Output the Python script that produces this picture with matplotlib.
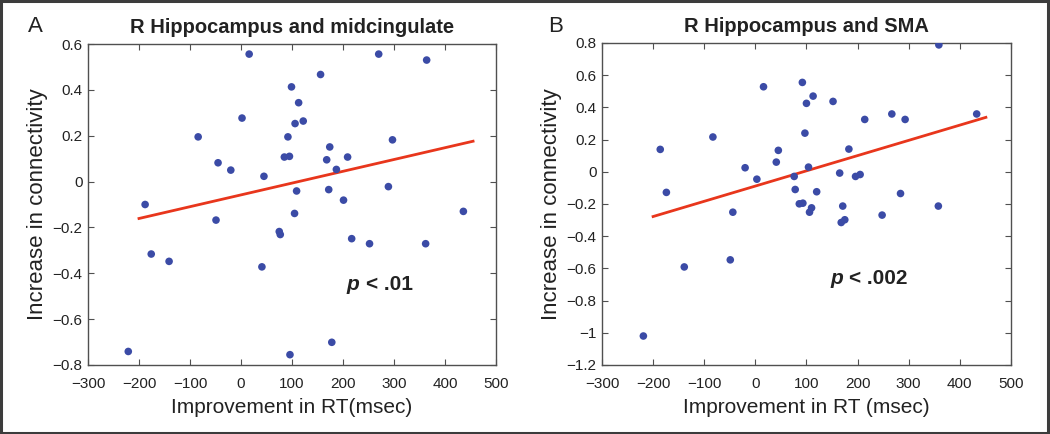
import matplotlib
matplotlib.use('Agg')
import matplotlib.pyplot as plt
from matplotlib.patches import Rectangle

plt.rcParams['font.family'] = ['Liberation Sans', 'DejaVu Sans']

DOT = '#3b4ba6'
FIT = '#e8361c'
EDGE = '#505050'

# panel A: R hippocampus and midcingulate
a_rt = [16, 99, 113, 2, 106, 122, -84, 92, -45, -20, 85, 95, 45, 109, -188, -49, 105,
        75, 77, -176, -141, 41, -221, 96, 270, 364, 156, 297, 174, 168, 209, 187, 289,
        172, 201, 436, 217, 252, 362, 178]
a_conn = [0.556, 0.413, 0.344, 0.277, 0.253, 0.264, 0.195, 0.195, 0.082, 0.050, 0.107,
          0.110, 0.023, -0.041, -0.10, -0.168, -0.139, -0.218, -0.231, -0.316, -0.348,
          -0.372, -0.741, -0.755, 0.556, 0.530, 0.467, 0.182, 0.151, 0.095, 0.107, 0.053,
          -0.022, -0.035, -0.081, -0.130, -0.249, -0.271, -0.271, -0.701]
a_fit_x = [-200, 455]
a_fit_y = [-0.161, 0.176]

# panel B: R hippocampus and SMA
b_rt = [16, 92, 113, 100, 97, -83, -186, 45, 41, -20, 104, 3, 76, 78, -174, 120, 86, 93,
        110, 106, -44, -49, -139, -219, 359, 152, 214, 267, 293, 433, 183, 165, 196, 205,
        284, 171, 358, 248, 168, 175]
b_conn = [0.528, 0.555, 0.470, 0.425, 0.240, 0.216, 0.139, 0.133, 0.060, 0.025, 0.029,
          -0.046, -0.029, -0.110, -0.128, -0.124, -0.199, -0.195, -0.224, -0.251, -0.251,
          -0.547, -0.591, -1.020, 0.788, 0.437, 0.325, 0.359, 0.325, 0.359, 0.141, -0.008,
          -0.029, -0.017, -0.135, -0.213, -0.213, -0.269, -0.315, -0.298]
b_fit_x = [-200, 451]
b_fit_y = [-0.278, 0.338]

x_ticks = [-300, -200, -100, 0, 100, 200, 300, 400, 500]
a_yticks = [-0.8, -0.6, -0.4, -0.2, 0, 0.2, 0.4, 0.6]
b_yticks = [-1.2, -1, -0.8, -0.6, -0.4, -0.2, 0, 0.2, 0.4, 0.6, 0.8]


def fmt(v):
    return ('%g' % v).replace('-', '\u2212')


fig = plt.figure(figsize=(10.5, 4.34), dpi=100)
fig.patches.append(Rectangle((0.001, 0.002), 0.997, 0.995, transform=fig.transFigure,
                             fill=False, edgecolor='#3c3c3c', linewidth=2.2))

axA = fig.add_axes([0.0838, 0.159, 0.3886, 0.7396])
axB = fig.add_axes([0.5733, 0.159, 0.3895, 0.742])

panels = [
    (axA, a_rt, a_conn, a_fit_x, a_fit_y, a_yticks, (-0.8, 0.6),
     'R Hippocampus and midcingulate', 'Improvement in RT(msec)', '< .01', (207, -0.447)),
    (axB, b_rt, b_conn, b_fit_x, b_fit_y, b_yticks, (-1.2, 0.8),
     'R Hippocampus and SMA', 'Improvement in RT (msec)', '< .002', (146, -0.661)),
]

for ax, xs, ys, fx, fy, yt, ylim, title, xlabel, ptxt, ppos in panels:
    ax.scatter(xs, ys, s=30, color=DOT, edgecolors='none', zorder=3)
    ax.plot(fx, fy, color=FIT, linewidth=2, zorder=2)
    ax.set_xlim(-300, 500)
    ax.set_ylim(*ylim)
    ax.set_xticks(x_ticks)
    ax.set_xticklabels([fmt(v) for v in x_ticks])
    ax.set_yticks(yt)
    ax.set_yticklabels([fmt(v) for v in yt])
    ax.tick_params(direction='in', top=True, right=True, length=4, width=0.8,
                   color=EDGE, labelsize=11, labelcolor='#222222')
    ax.tick_params(axis='x', pad=9)
    ax.tick_params(axis='y', pad=4)
    for sp in ax.spines.values():
        sp.set_color(EDGE)
        sp.set_linewidth(1.0)
    ax.set_title(title, fontsize=14.5, fontweight='bold', color='#222222', pad=8)
    ax.set_xlabel(xlabel, fontsize=15, color='#222222', labelpad=5)
    ax.set_ylabel('Increase in connectivity', fontsize=16, color='#222222', labelpad=3)
    ax.text(ppos[0], ppos[1], 'p', fontsize=15, fontweight='bold', style='italic',
            color='#222222', ha='left', va='center')
    ax.text(ppos[0] + 38, ppos[1], ptxt, fontsize=15, fontweight='bold',
            color='#222222', ha='left', va='center')

fig.text(0.027, 0.94, 'A', fontsize=16, color='#222222', va='center')
fig.text(0.522, 0.94, 'B', fontsize=16, color='#222222', va='center')

fig.savefig('out.png', dpi=100, facecolor='white')
